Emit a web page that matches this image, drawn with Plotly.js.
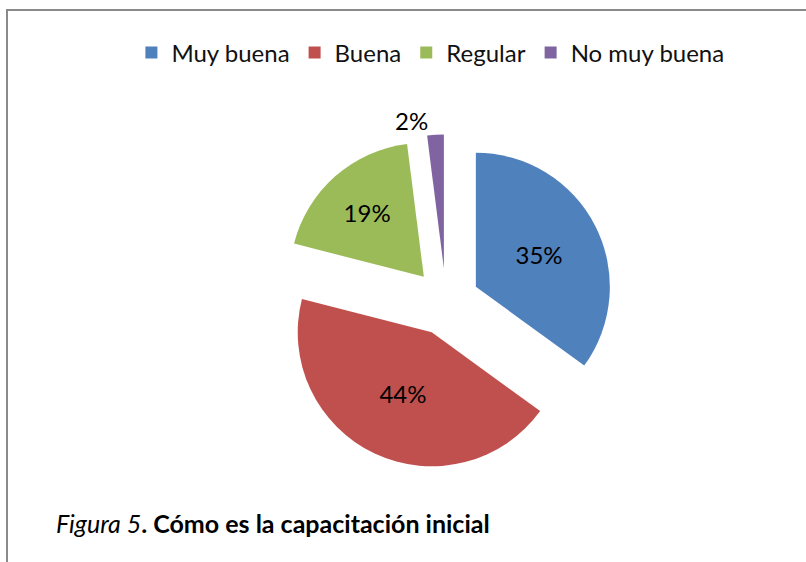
<!DOCTYPE html>
<html>
<head>
<meta charset="utf-8">
<script src="https://cdn.plot.ly/plotly-3.0.1.min.js"></script>
<style>
html,body{margin:0;padding:0;background:#fff;}
#chart{width:806px;height:562px;}
</style>
</head>
<body>
<div id="chart"></div>
<script>
const categories = ["Muy buena", "Buena", "Regular", "No muy buena"];
const values = [35, 44, 19, 2];
const colors = ["#4F81BD", "#C0504D", "#9BBB59", "#8064A2"];
const captionItalic = "Figura 5";
const captionBold = ". Cómo es la capacitación inicial";

const W = 806, H = 562;
const cx = 446, cy = 302, r = 134, pull = 0.25;
const half = r * (1 + pull);
const FONT = "Lato, 'Open Sans', sans-serif";

const trace = {
  type: "pie",
  labels: categories,
  values: values,
  sort: false,
  direction: "clockwise",
  rotation: 0,
  pull: [pull, pull, pull, pull],
  marker: {colors: colors, line: {width: 0}},
  texttemplate: "%{percent:.0%}",
  textposition: ["inside", "inside", "inside", "outside"],
  insidetextorientation: "horizontal",
  textfont: {family: FONT, size: 24, color: "#000"},
  outsidetextfont: {family: FONT, size: 24, color: "#000"},
  insidetextfont: {family: FONT, size: 24, color: "#000"},
  hoverinfo: "none",
  automargin: false,
  domain: {
    x: [(cx - half) / W, (cx + half) / W],
    y: [(H - cy - half) / H, (H - cy + half) / H]
  }
};

const layout = {
  width: W, height: H,
  margin: {l: 0, r: 0, t: 0, b: 0},
  paper_bgcolor: "#fff",
  showlegend: true,
  legend: {
    orientation: "h",
    x: 0.534, xanchor: "center",
    y: (H - 53) / H, yanchor: "middle",
    font: {family: FONT, size: 24, color: "#111"},
    itemwidth: 30,
    traceorder: "normal"
  },
  shapes: [
    {type: "line", xref: "paper", yref: "paper", x0: 6 / W, x1: 1, y0: (H - 10) / H, y1: (H - 10) / H,
     line: {color: "#8a8a8a", width: 2}},
    {type: "line", xref: "paper", yref: "paper", x0: 7 / W, x1: 7 / W, y0: 0, y1: (H - 10) / H,
     line: {color: "#8a8a8a", width: 2}}
  ],
  annotations: [{
    xref: "paper", yref: "paper",
    x: 54 / W, y: (H - 523) / H, xanchor: "left", yanchor: "middle",
    showarrow: false,
    text: "<i>" + captionItalic + "</i><b>" + captionBold + "</b>",
    font: {family: FONT, size: 25, color: "#000"}
  }]
};

Plotly.newPlot("chart", [trace], layout, {displayModeBar: false, staticPlot: true});
</script>
</body>
</html>
